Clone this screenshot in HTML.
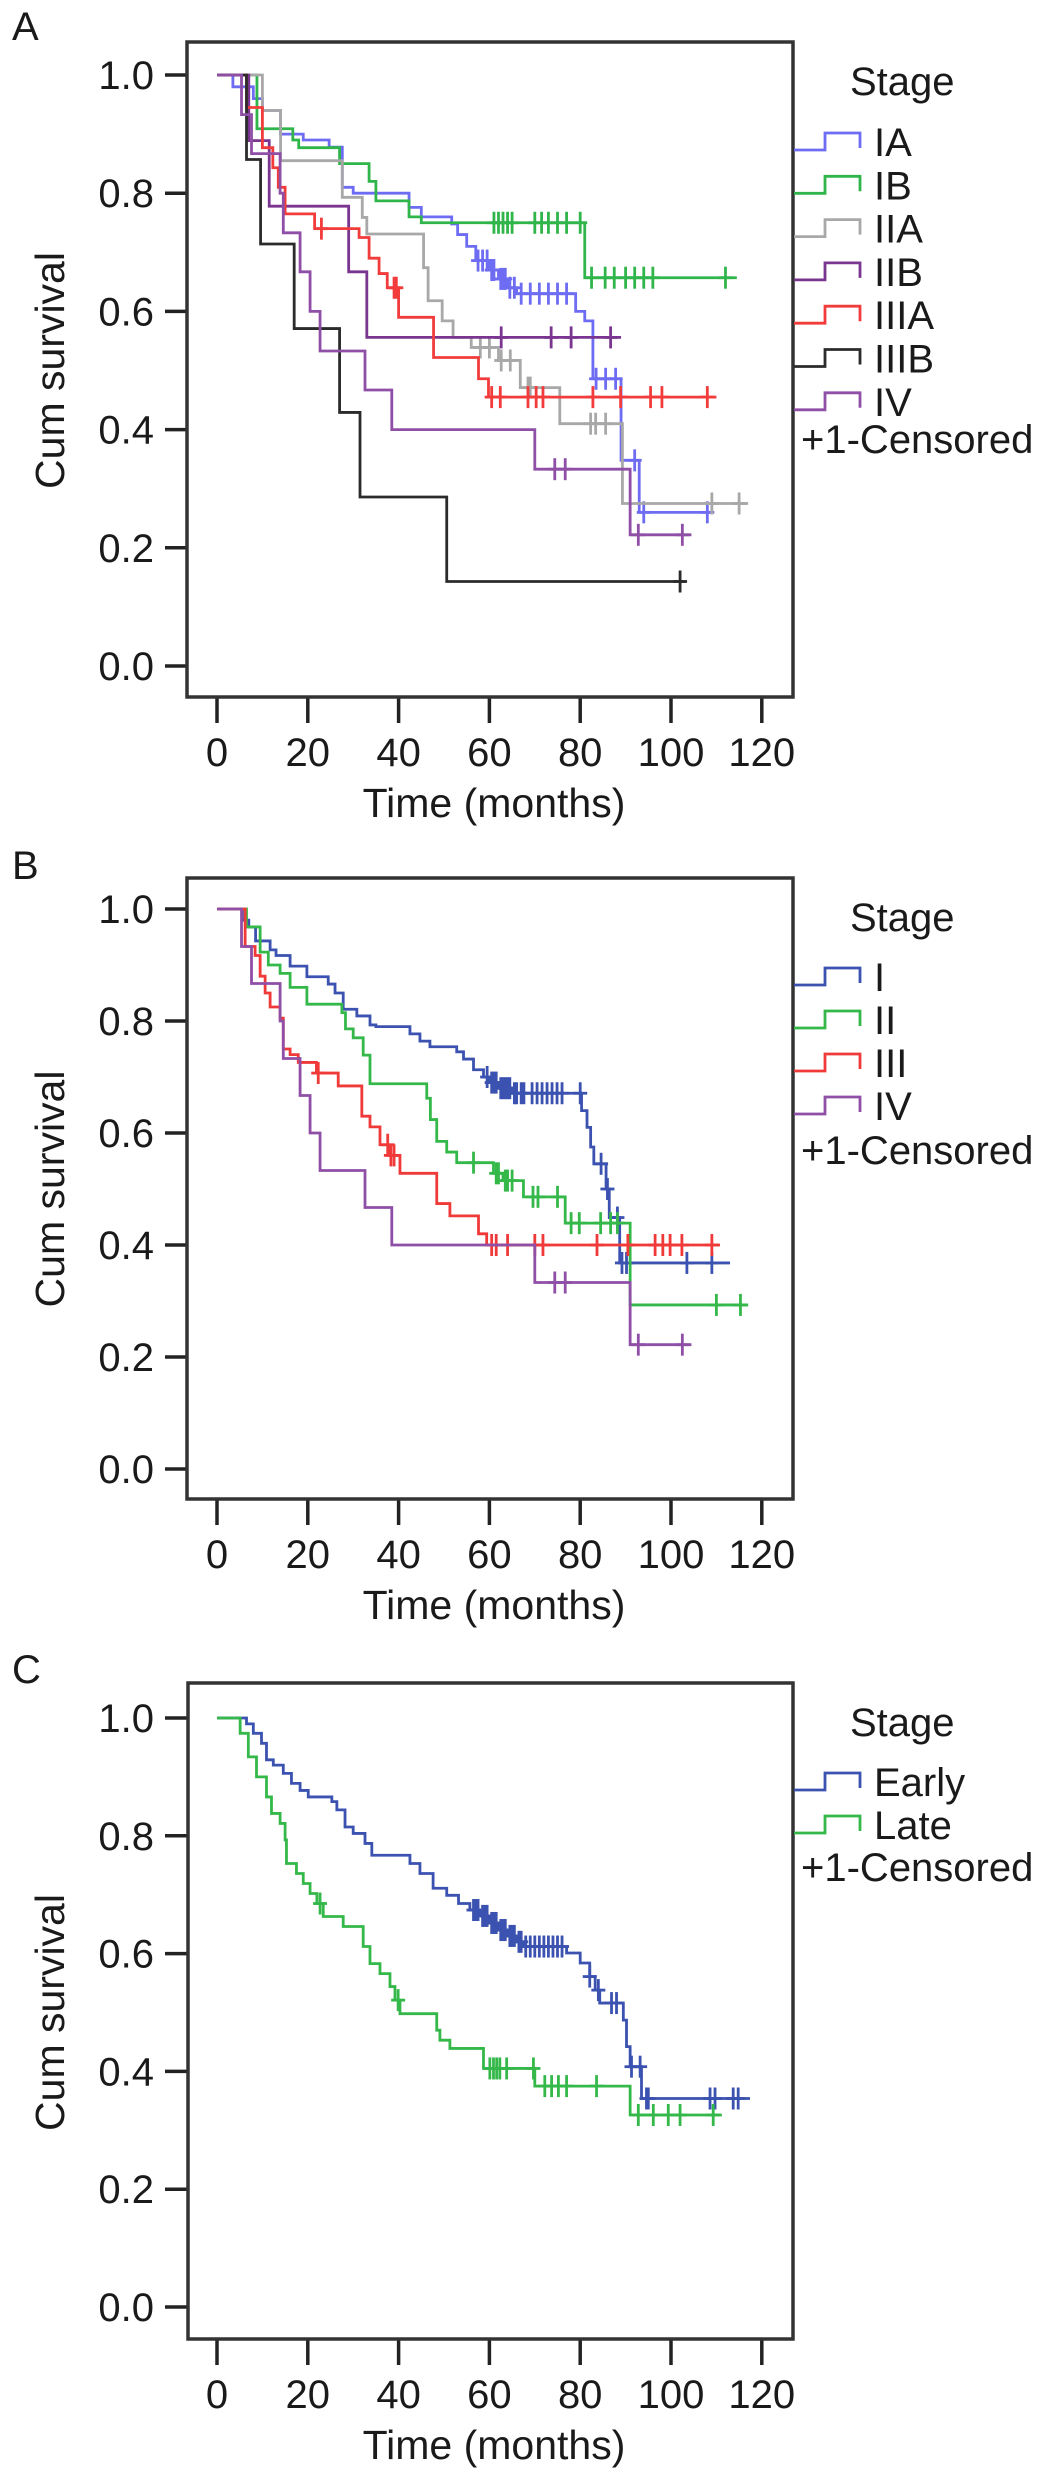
<!DOCTYPE html>
<html><head><meta charset="utf-8"><title>Kaplan-Meier survival by stage</title>
<style>
html,body{margin:0;padding:0;background:#fff;}
svg{display:block;font-family:"Liberation Sans",Arial,sans-serif;}
</style></head>
<body>
<svg id="fig" width="1056" height="2488" viewBox="0 0 1056 2488" xmlns="http://www.w3.org/2000/svg"></svg>
<script>
// ---------- axis ticks ----------
const xTicks = [0, 20, 40, 60, 80, 100, 120];
const yTicks = [0, 0.2, 0.4, 0.6, 0.8, 1.0];
const yTickLabels = ["0.0", "0.2", "0.4", "0.6", "0.8", "1.0"];

// ---------- Panel A (sub-stages) ----------
const A_IA_t = [3.5, 8, 10, 14, 19, 24.7, 27.6, 30, 42.3, 45, 51.7, 53, 55, 57, 60, 62, 64, 66, 79, 81, 82.8, 89, 93];
const A_IA_s = [.98, .96, .94, .9, .89, .878, .81, .80, .776, .76, .748, .73, .71, .686, .67, .655, .64, .63, .60, .584, .486, .348, .26];
const A_IA_c = [57.5, 58.5, 59.5, 60.5, 61, 62.5, 63, 63.5, 64.5, 65.5, 67, 69, 71, 73, 75, 77, 83.5, 85.6, 87.8, 92, 94, 108];
const A_IA_end = 109;

const A_IB_t = [8.8, 16.7, 18, 27, 33.5, 35, 42.3, 45, 81];
const A_IB_s = [.909, .89, .877, .85, .82, .787, .76, .75, .657];
const A_IB_c = [61, 62, 63, 64, 65, 70, 71.5, 73, 75, 77, 80, 82.5, 85.5, 87.5, 90, 92, 94, 96, 112];
const A_IB_end = 114.5;

const A_IIA_t = [10, 14, 27.6, 32, 33, 45.5, 46.5, 49.6, 52, 56, 62, 66.8, 75.5, 89.3];
const A_IIA_s = [.94, .855, .793, .759, .731, .674, .618, .584, .556, .539, .517, .471, .41, .275];
const A_IIA_c = [58, 60, 62.6, 64.6, 68.5, 69, 82.3, 83.4, 85.6, 109, 115];
const A_IIA_end = 117;

const A_IIB_t = [7, 11.5, 29, 33];
const A_IIB_s = [.889, .778, .667, .556];
const A_IIB_c = [62.6, 73.6, 78, 86.7];
const A_IIB_end = 89;

const A_IIIA_t = [6.5, 10, 12.3, 13.5, 15, 21.5, 31.3, 33.5, 35.7, 37.5, 40, 47.7, 57.6, 59.8];
const A_IIIA_s = [.945, .877, .843, .81, .765, .74, .725, .69, .664, .64, .59, .522, .486, .455];
const A_IIIA_c = [23, 39, 39.5, 60.5, 62.4, 68.5, 70.3, 71.8, 82.8, 88.9, 95.5, 98, 108];
const A_IIIA_end = 110;

const A_IIIB_t = [6.5, 9.6, 17, 27, 31.5, 50.6];
const A_IIIB_s = [.857, .714, .571, .429, .286, .143];
const A_IIIB_c = [102];
const A_IIIB_end = 103;

const IV_t = [5.4, 7.6, 13.9, 14.6, 18.3, 20.5, 22.7, 32.6, 38.5, 70, 91];
const IV_s = [.933, .867, .8, .733, .667, .6, .533, .467, .4, .333, .222];
const IV_c = [74.4, 76.7, 92.8, 102.5];
const IV_end = 104.5;

// ---------- Panel B (stages) ----------
const B_I_t = [5.6, 7, 8.5, 11.7, 13, 16.1, 19.8, 24.5, 26, 27.8, 30.8, 33.7, 35, 42.5, 44.7, 46.9, 52.8, 54.3, 56.5, 58.7, 60, 62, 65, 80.3, 81.5, 82.3, 83, 85.7, 86.4, 88.7];
const B_I_s = [.98, .968, .943, .927, .917, .898, .879, .866, .85, .821, .809, .793, .79, .777, .764, .754, .745, .732, .713, .70, .69, .68, .671, .64, .61, .575, .545, .5, .449, .368];
const B_I_c = [59.5, 60.5, 61, 61.5, 62.5, 63, 63.5, 64, 64.5, 65.5, 66, 67, 67.6, 69.4, 70.5, 71.6, 72.7, 73.8, 74.9, 76, 80, 84.6, 86, 88.2, 89.2, 90.2, 103.5, 109];
const B_I_end = 113;

const B_II_t = [6.5, 9.5, 11.3, 13.9, 16.1, 19.8, 27.5, 28.3, 30, 32.2, 33.7, 46.2, 47, 48.4, 50.6, 52.8, 60.9, 63, 67.5, 76.7, 91];
const B_II_s = [.968, .923, .9, .885, .86, .83, .815, .786, .77, .739, .688, .662, .624, .585, .566, .547, .528, .515, .486, .439, .293];
const B_II_c = [56.5, 61.5, 62, 63.5, 64, 65, 69.6, 70.7, 75, 78, 79.8, 84.5, 86.7, 88.2, 110, 115.3];
const B_II_end = 117;

const B_III_t = [6.2, 8.4, 9.5, 10.6, 11.7, 13.9, 14.6, 16.1, 17.9, 21.9, 26.7, 31.9, 33.7, 35.9, 38, 40.3, 48.4, 51.3, 57.6, 59.4];
const B_III_s = [.933, .917, .88, .85, .825, .805, .75, .74, .726, .707, .684, .63, .611, .579, .56, .528, .474, .452, .42, .40];
const B_III_c = [22.3, 37.6, 38.3, 39, 60.5, 61.5, 64, 70, 71.8, 83.7, 90.5, 96.5, 98.2, 99.8, 102.4, 109];
const B_III_end = 110.8;

// ---------- Panel C (early vs late) ----------
const C_E_t = [6.5, 8, 9.8, 10.9, 12.4, 14.6, 16.4, 18.3, 20.1, 25.3, 26.4, 28.2, 30, 32.6, 34.1, 42.5, 44.7, 47.6, 50.6, 53.2, 55.7, 58, 60, 62, 64, 66, 67.5, 77, 80, 82.1, 83.3, 84.3, 89.5, 90.2, 91, 93.5];
const C_E_s = [.99, .974, .957, .929, .92, .906, .889, .877, .866, .858, .844, .815, .804, .787, .767, .753, .736, .711, .699, .685, .674, .664, .652, .64, .63, .62, .612, .601, .584, .561, .538, .516, .487, .442, .408, .354];
const C_E_c = [56.5, 57, 57.5, 58.5, 59, 59.5, 60.5, 61, 61.5, 62.5, 63, 63.5, 64.5, 65, 65.5, 66.5, 67, 68, 69, 70, 71, 72, 73, 74, 75, 76, 82.1, 84, 86.9, 88, 91.3, 93.2, 94.6, 95, 108.6, 109.7, 113.7, 114.8];
const C_E_end = 117.4;

const C_L_t = [5.1, 6.9, 8.7, 10.9, 12, 13.9, 15, 15.3, 17.5, 19, 20.5, 22, 23.4, 27.8, 32.2, 33.7, 35.9, 38.1, 39.2, 40.3, 48.4, 49.1, 51.3, 58.7, 70, 91];
const C_L_s = [.974, .934, .9, .866, .838, .821, .793, .753, .736, .719, .702, .685, .663, .646, .612, .583, .566, .544, .521, .498, .47, .453, .439, .405, .375, .326];
const C_L_c = [22.7, 39.9, 60.1, 60.9, 61.6, 62.3, 63.8, 69.7, 72.2, 73.7, 75.2, 77, 83.6, 92.8, 96.1, 99.4, 102, 109.3];
const C_L_end = 111.2;

// ---------- drawing ----------
const NS = "http://www.w3.org/2000/svg";
const svg = document.getElementById("fig");
const X0 = 217, XK = 4.54, FS = 40;
function xs(t){ return X0 + XK * t; }

function mk(tag, attrs, parent){
  const e = document.createElementNS(NS, tag);
  for (const k in attrs) e.setAttribute(k, attrs[k]);
  (parent || svg).appendChild(e);
  return e;
}
function txt(str, x, y, size, anchor, parent){
  const e = mk("text", {x: x, y: y, "font-size": size, "text-anchor": anchor || "start", "dominant-baseline": "central", fill: "#1a1a1a"}, parent);
  e.textContent = str;
  return e;
}

function panel(P){
  const g = mk("g", {});
  
  
  const ys = s => P.y0 - (P.y0 - P.y1) * s;
  const lt = txt(P.letter, 12, P.letterY, FS, "start", g);
  
  
  yTicks.forEach((v, i) => {
    const y = ys(v);
    const tk = mk("line", {x1: 165, x2: 188, y1: y, y2: y, stroke: "#222", "stroke-width": 3.5}, g);
    
    
    const tl = txt(yTickLabels[i], 154, y + 1, FS, "end", g);
    
    
  });
  xTicks.forEach(v => {
    const x = xs(v);
    const tk = mk("line", {x1: x, x2: x, y1: P.bottom, y2: P.bottom + 26, stroke: "#222", "stroke-width": 3.5}, g);
    
    
    const tl = txt(String(v), x, P.bottom + 56, FS, "middle", g);
    
    
  });
  const xt = txt("Time (months)", 494, P.bottom + 106, FS + 1, "middle", g);
  
  
  const cy = (P.y0 + P.y1) / 2;
  const yt = txt("Cum survival", 50, cy, FS + 1, "middle", g);
  yt.setAttribute("transform", "rotate(-90 50 " + cy + ")");
  
  
  P.series.forEach(S => {
    const sg = mk("g", {}, g);
    
    
    let d = "M" + xs(0) + " " + ys(1);
    S.t.forEach((t, i) => { d += " H" + xs(t) + " V" + ys(S.s[i]); });
    d += " H" + xs(S.end);
    const p = mk("path", {d: d, fill: "none", stroke: S.color, "stroke-width": 2.8, "stroke-linejoin": "miter"}, sg);
    
    
    S.c.forEach(ct => {
      let sv = 1;
      S.t.forEach((t, i) => { if (t <= ct) sv = S.s[i]; });
      const cx = xs(ct), cyy = ys(sv);
      const m = mk("line", {x1: cx, x2: cx, y1: cyy - 11, y2: cyy + 11, stroke: S.color, "stroke-width": 2.8}, sg);
      
      
      const h = mk("line", {x1: cx - 7, x2: cx + 7, y1: cyy, y2: cyy, stroke: S.color, "stroke-width": 2.8}, sg);
      
      
    });
  });
  const fr = mk("rect", {x: P.left, y: P.top, width: 793 - P.left, height: P.bottom - P.top, fill: "none", stroke: "#333", "stroke-width": 3.5}, g);
  
  
  const lg = mk("g", {}, g);
  
  
  const st = txt("Stage", 850, P.legTop, FS, "start", lg);
  
  
  let yc = P.legFirst;
  P.series.forEach(S => {
    const le = mk("g", {}, lg);
    
    
    mk("path", {d: "M794 " + (yc + 7) + " H825 V" + (yc - 10) + " H860 V" + (yc + 5), fill: "none", stroke: S.color, "stroke-width": 2.8}, le);
    txt(S.label, 874, yc, FS, "start", le);
    yc += P.legStep;
  });
  const cen = txt("+1-Censored", 801, yc - P.legStep + P.cenGap, FS, "start", lg);
  
  
}

const cIA = "#6e6cf2", cIB = "#2fb54a", cIIA = "#a8a8a8", cIIB = "#7a3590", cIIIA = "#f23c3c", cIIIB = "#2b2b2b", cIV = "#8f4fa6";
const cBlue = "#3b52b0", cGreen = "#35b84a", cRed = "#f03a3a";

panel({
  name: "panel-a", letter: "A", letterY: 27, top: 42, bottom: 697, left: 187, y1: 75, y0: 666,
  legTop: 82, legFirst: 143, legStep: 43.3, cenGap: 37,
  series: [
    {key: "ia", label: "IA", color: cIA, t: A_IA_t, s: A_IA_s, c: A_IA_c, end: A_IA_end},
    {key: "ib", label: "IB", color: cIB, t: A_IB_t, s: A_IB_s, c: A_IB_c, end: A_IB_end},
    {key: "iia", label: "IIA", color: cIIA, t: A_IIA_t, s: A_IIA_s, c: A_IIA_c, end: A_IIA_end},
    {key: "iib", label: "IIB", color: cIIB, t: A_IIB_t, s: A_IIB_s, c: A_IIB_c, end: A_IIB_end},
    {key: "iiia", label: "IIIA", color: cIIIA, t: A_IIIA_t, s: A_IIIA_s, c: A_IIIA_c, end: A_IIIA_end},
    {key: "iiib", label: "IIIB", color: cIIIB, t: A_IIIB_t, s: A_IIIB_s, c: A_IIIB_c, end: A_IIIB_end},
    {key: "iv", label: "IV", color: cIV, t: IV_t, s: IV_s, c: IV_c, end: IV_end}
  ]
});

panel({
  name: "panel-b", letter: "B", letterY: 866, top: 878, bottom: 1499, left: 187, y1: 909, y0: 1469,
  legTop: 918, legFirst: 978, legStep: 43, cenGap: 44,
  series: [
    {key: "i", label: "I", color: cBlue, t: B_I_t, s: B_I_s, c: B_I_c, end: B_I_end},
    {key: "ii", label: "II", color: cGreen, t: B_II_t, s: B_II_s, c: B_II_c, end: B_II_end},
    {key: "iii", label: "III", color: cRed, t: B_III_t, s: B_III_s, c: B_III_c, end: B_III_end},
    {key: "iv", label: "IV", color: cIV, t: IV_t, s: IV_s, c: IV_c, end: IV_end}
  ]
});

panel({
  name: "panel-c", letter: "C", letterY: 1670, top: 1683, bottom: 2339, left: 188, y1: 1718, y0: 2307,
  legTop: 1723, legFirst: 1783, legStep: 43, cenGap: 42,
  series: [
    {key: "early", label: "Early", color: cBlue, t: C_E_t, s: C_E_s, c: C_E_c, end: C_E_end},
    {key: "late", label: "Late", color: cGreen, t: C_L_t, s: C_L_s, c: C_L_c, end: C_L_end}
  ]
});
</script>
</body></html>
